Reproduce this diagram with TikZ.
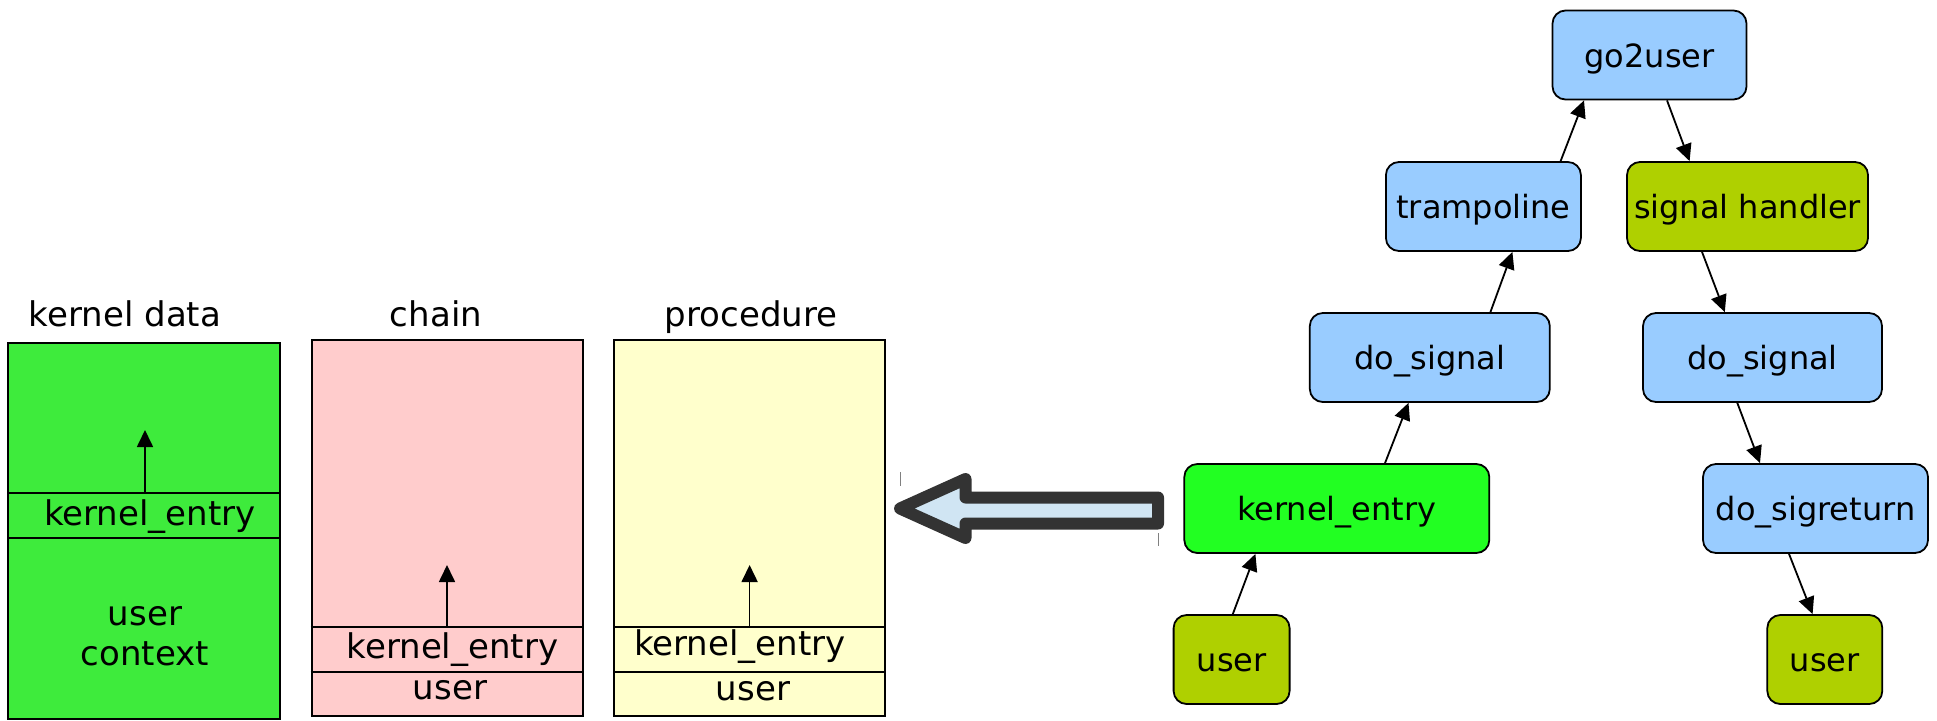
\documentclass[tikz,border=0pt]{standalone}
\usepackage{fontspec}
\setmainfont{DejaVu Sans}
\usetikzlibrary{arrows.meta}
\definecolor{kdgreen}{HTML}{3EEB3C}
\definecolor{chainpink}{HTML}{FFCCCC}
\definecolor{procyellow}{HTML}{FFFFCC}
\definecolor{fnblue}{HTML}{99CCFF}
\definecolor{usrolive}{HTML}{AFD000}
\definecolor{entrygreen}{HTML}{22FF22}
\definecolor{bigfill}{HTML}{D0E5F3}
\definecolor{bigedge}{HTML}{333333}
\begin{document}
\begin{tikzpicture}[x=1pt,y=-1pt,
  stackbox/.style={draw=black, line width=2pt, inner sep=0pt, minimum height=376pt},
  slot/.style={line width=1.3pt},
  stackgrowth/.style={-{Triangle[length=17pt,width=16pt]}, line width=1.7pt},
  title/.style={font=\fontsize{34}{40}\selectfont, anchor=base, inner sep=0pt},
  fn/.style={draw=black, rounded corners=13pt, line width=1.8pt, minimum height=89pt,
             inner sep=0pt, text height=28pt, text depth=4pt,
             font=\fontsize{32}{38}\selectfont},
  call/.style={-{Triangle[length=17pt,width=16pt]}, line width=1.8pt}]
\useasboundingbox (0,0) rectangle (1937,720);

% --- three stack snapshots ---
\node[stackbox, fill=kdgreen, minimum width=272pt] (kd) at (144.4,530.5) {};
\node[stackbox, fill=chainpink, minimum width=271pt] (ch) at (447.2,528) {};
\node[stackbox, fill=procyellow, minimum width=271pt] (pr) at (749.9,528) {};

\node[title] (kdt) at (125,326) {kernel data};
\node[title] (cht) at (436,326) {chain};
\node[title] (prt) at (751,326) {procedure};

% kernel data contents
\coordinate (kd1) at (0,493);
\coordinate (kd2) at (0,538);
\draw[slot] (kd.west |- kd1) -- (kd.east |- kd1);
\draw[slot] (kd.west |- kd2) -- (kd.east |- kd2);
\node[title] (kde) at (150,525) {kernel\_entry};
\node[title] (kdu) at (145,625) {user};
\node[title] (kdc) at (145,665) {context};
\coordinate (kdtop) at (145,430);
\draw[stackgrowth] (kd1 -| kdtop) -- (kdtop);

% chain contents
\coordinate (ch1) at (0,627);
\coordinate (ch2) at (0,672);
\draw[slot] (ch.west |- ch1) -- (ch.east |- ch1);
\draw[slot] (ch.west |- ch2) -- (ch.east |- ch2);
\node[title] (che) at (452.5,658) {kernel\_entry};
\node[title] (chu) at (450,699) {user};
\coordinate (chtop) at (447,565);
\draw[stackgrowth] (ch1 -| chtop) -- (chtop);

% procedure contents
\draw[slot] (pr.west |- ch1) -- (pr.east |- ch1);
\draw[slot] (pr.west |- ch2) -- (pr.east |- ch2);
\node[title] (pre) at (740,655) {kernel\_entry};
\node[title] (pru) at (753,700) {user};
\coordinate (prtop) at (749.6,565);
\draw[stackgrowth] (ch1 -| prtop) -- (prtop);

% --- big hollow arrow ---
\draw[draw=bigedge, fill=bigfill, line width=12pt, line join=round]
  (900,508.5) -- (965.5,479) -- (965.5,497.5) -- (1158,497.5) -- (1158,523.5)
  -- (965.5,523.5) -- (965.5,538) -- cycle;
\draw[gray, line width=1pt] (900,472) -- (900,486);
\draw[gray, line width=1pt] (1158,533) -- (1158,546);

% --- call graph ---
\node[fn, fill=fnblue, minimum width=194pt] (g2u) at (1649.5,55) {go2user};
\node[fn, fill=fnblue, minimum width=195pt] (tr) at (1483.4,206.5) {trampoline};
\node[fn, fill=usrolive, minimum width=241pt] (sh) at (1747.5,206.5) {signal handler};
\node[fn, fill=fnblue, minimum width=240pt] (dsL) at (1429.8,357.5) {do\_signal};
\node[fn, fill=fnblue, minimum width=239pt] (dsR) at (1762.5,357.5) {do\_signal};
\node[fn, fill=entrygreen, minimum width=305pt] (ke) at (1336.8,508.5) {kernel\_entry};
\node[fn, fill=fnblue, minimum width=225pt] (dsr) at (1815.5,508.5) {do\_sigreturn};
\node[fn, fill=usrolive, minimum width=116pt] (uL) at (1231.6,659.5) {user};
\node[fn, fill=usrolive, minimum width=115pt] (uR) at (1824.8,659.5) {user};

\draw[call] ([xshift=1.2pt]uL.north) -- ([xshift=-81.4pt]ke.south);
\draw[call] ([xshift=48.2pt]ke.north) -- ([xshift=-21.3pt]dsL.south);
\draw[call] ([xshift=60.6pt]dsL.north) -- ([xshift=29pt]tr.south);
\draw[call] ([xshift=77.2pt]tr.north) -- ([xshift=-65.5pt]g2u.south);
\draw[call] ([xshift=17.5pt]g2u.south) -- ([xshift=-57.9pt]sh.north);
\draw[call] ([xshift=-45.5pt]sh.south) -- ([xshift=-37.7pt]dsR.north);
\draw[call] ([xshift=-25.2pt]dsR.south) -- ([xshift=-55.5pt]dsr.north);
\draw[call] ([xshift=-26.5pt]dsr.south) -- ([xshift=-12.2pt]uR.north);
\end{tikzpicture}
\end{document}
